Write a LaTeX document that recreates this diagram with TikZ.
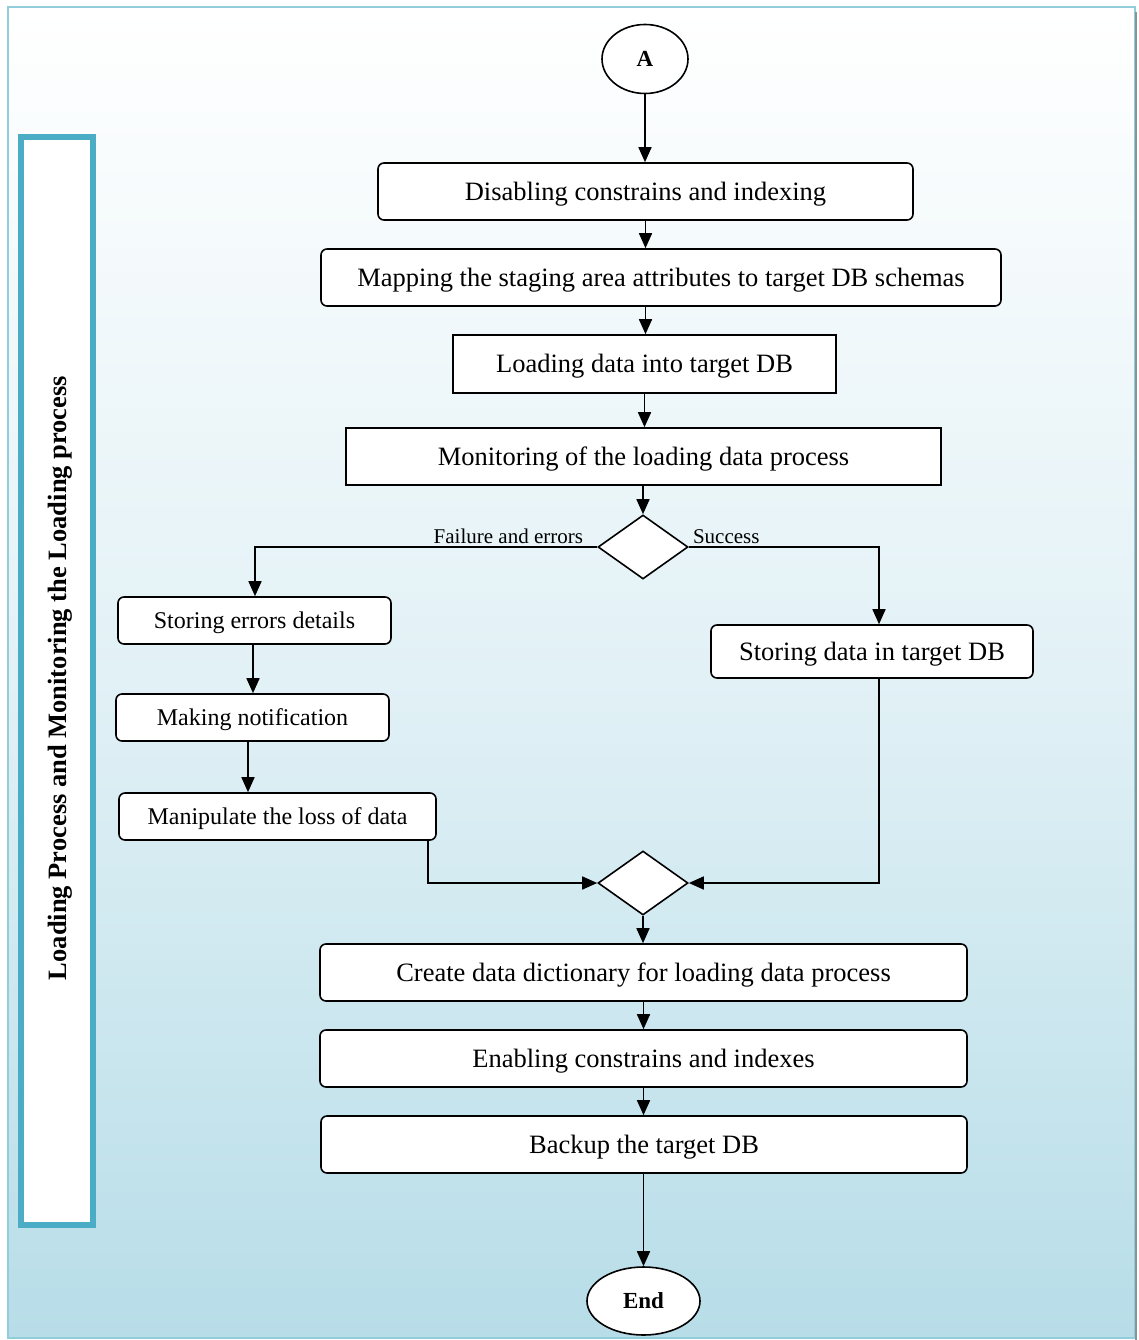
\documentclass[tikz,border=0pt]{standalone}
\usepackage{fontspec}
\setmainfont{Liberation Serif}
\usetikzlibrary{shapes.geometric,arrows.meta}
\definecolor{frameblue}{RGB}{146,205,220}
\definecolor{sideblue}{RGB}{75,172,198}
\definecolor{bgbottom}{RGB}{183,221,232}
\begin{document}
\begin{tikzpicture}[x=1pt,y=-1pt,
  box/.style={draw=black,line width=1.6pt,fill=white,rounded corners=6pt,inner sep=0pt,
    text height=22.5pt,text depth=5.3pt,
    font=\fontsize{26.5}{30}\selectfont},
  sbox/.style={box,rounded corners=0pt},
  smallbox/.style={box,text height=20.4pt,text depth=4.8pt,font=\fontsize{24}{27}\selectfont},
  decision/.style={draw=black,line width=1.6pt,fill=white,shape=diamond,inner sep=0pt,
    minimum width=90pt,minimum height=64pt},
  terminal/.style={draw=black,line width=1.6pt,fill=white,shape=ellipse,inner sep=0pt,
    font=\fontsize{23}{26}\selectfont\bfseries},
  flow/.style={line width=1.6pt,-{Triangle[length=15pt,width=13pt]}},
  branch/.style={font=\fontsize{21}{24}\selectfont,inner sep=0pt}]
\useasboundingbox (0,0) rectangle (1138,1340);
% page background with vertical shading and thin frame
\fill[white] (0,0) rectangle (1138,1340);
\shade[top color=white,bottom color=bgbottom,middle color={rgb,255:red,226;green,241;blue,246}]
  (8,7) rectangle (1135,1338);
\draw[frameblue,line width=2pt] (8,7) rectangle (1135,1338);
\draw[gray!70!frameblue,line width=1.5pt] (1136,12) -- (1136,1340);
% side caption panel
\node[draw=sideblue,line width=6pt,fill=white,minimum width=72pt,minimum height=1087pt,inner sep=0pt]
  (side) at (56.5,681) {};
\node[rotate=90,font=\fontsize{26.5}{30}\selectfont\bfseries] (sidetext) at (60,678)
  {Loading Process and Monitoring the Loading process};

% flow nodes
\node[terminal,minimum width=86pt,minimum height=69pt] (A) at (645,59) {A};
\node[box,minimum width=535pt,minimum height=57pt] (b1) at (645.5,191.5) {Disabling constrains and indexing};
\node[box,minimum width=680pt,minimum height=57pt] (b2) at (661,277.5) {Mapping the staging area attributes to target DB schemas};
\node[sbox,minimum width=383pt,minimum height=58pt] (b3) at (644.5,364) {Loading data into target DB};
\node[sbox,minimum width=595pt,minimum height=57pt] (b4) at (643.5,456.5) {Monitoring of the loading data process};
\node[decision] (d1) at (643,547) {};
\node[smallbox,minimum width=273pt,minimum height=47pt] (e1) at (254.5,620.5) {Storing errors details};
\node[smallbox,minimum width=273pt,minimum height=47pt] (e2) at (252.5,717.5) {Making notification};
\node[smallbox,minimum width=317pt,minimum height=47pt] (e3) at (277.5,816.5) {Manipulate the loss of data};
\node[box,minimum width=322pt,minimum height=53pt] (s1) at (872,651.5) {Storing data in target DB};
\node[decision] (d2) at (643,883) {};
\node[box,minimum width=647pt,minimum height=57pt] (b5) at (643.5,972.5) {Create data dictionary for loading data process};
\node[box,minimum width=647pt,minimum height=57pt] (b6) at (643.5,1058.5) {Enabling constrains and indexes};
\node[box,minimum width=646pt,minimum height=57pt] (b7) at (644,1144.5) {Backup the target DB};
\node[terminal,minimum width=113pt,minimum height=68pt] (E) at (643.5,1301) {End};

% branch labels beside the first decision
\node[branch,anchor=south east] (lf) at ([xshift=-14pt,yshift=3pt]d1.west) {Failure and errors};
\node[branch,anchor=south west] (ls) at ([xshift=4pt,yshift=3pt]d1.east) {Success};

% connectors
\draw[flow] (A.south) -- (b1.north -| A.south);
\draw[flow] (b1.south) -- (b2.north -| b1.south);
\draw[flow] (b2.south -| b1.south) -- (b3.north -| b1.south);
\draw[flow] (b3.south) -- (b4.north -| b3.south);
\draw[flow] (b4.south -| d1.north) -- (d1.north);
\draw[flow] (d1.west) -| (e1.north -| 255,0);
\draw[flow] (d1.east) -| (s1.north -| 879,0);
\draw[flow] (e1.south -| 253,0) -- (e2.north -| 253,0);
\draw[flow] (e2.south -| 248,0) -- (e3.north -| 248,0);
\draw[flow] (e3.south -| 428,0) |- (d2.west);
\draw[flow] (s1.south -| 879,0) |- (d2.east);
\draw[flow] (d2.south) -- (b5.north -| d2.south);
\draw[flow] (b5.south) -- (b6.north);
\draw[flow] (b6.south) -- (b7.north -| b6.south);
\draw[flow] (b7.south -| E.north) -- (E.north);
\end{tikzpicture}
\end{document}
